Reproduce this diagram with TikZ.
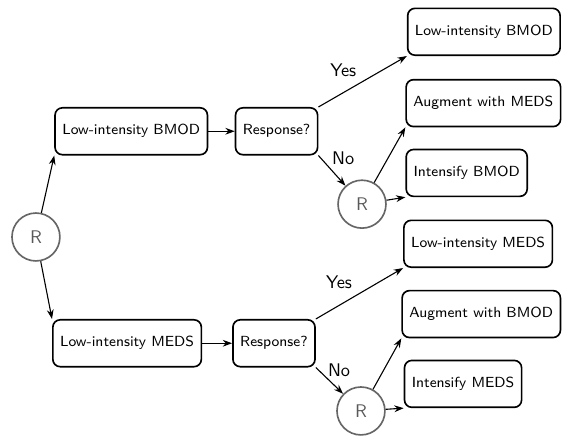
\documentclass[tikz,border=0pt]{standalone}
\usepackage{tikz}
\usetikzlibrary{arrows.meta, positioning}

\begin{document}
\begin{tikzpicture}[
    % Styles
    treat/.style={
        rectangle, rounded corners=4pt,
        minimum height=0.9cm, inner xsep=0.14cm,
        draw=black, line width=0.9pt, fill=white,
        font=\sffamily\footnotesize, align=center
    },
    rand/.style={
        circle, minimum size=0.92cm, inner sep=0pt,
        draw=black!60, line width=0.9pt, text=black!65,
        font=\sffamily
    },
    arrow/.style={-{Stealth[length=1.8mm, width=1.3mm]}, semithick},
    lbl/.style={font=\sffamily}
]
\useasboundingbox (0,0) rectangle (11.02,-8.58);

% === FIRST STAGE ===
\node (r0) [rand] at (0.69, -4.55) {R};
\node (lowB) [treat] at (2.52, -2.52) {Low-intensity BMOD};
\node (lowM) [treat] at (2.44, -6.59) {Low-intensity MEDS};

% === RESPONSE CHECKS ===
\node (respB) [treat] at (5.31, -2.52) {Response?};
\node (respM) [treat] at (5.26, -6.59) {Response?};

% === SECOND STAGE (BMOD branch) ===
\node (contB) [treat] at (9.29, -0.61) {Low-intensity BMOD};
\node (rB) [rand] at (6.95, -3.92) {R};
\node (augM) [treat] at (9.28, -1.98) {Augment with MEDS};
\node (intB) [treat] at (8.96, -3.32) {Intensify BMOD};

% === SECOND STAGE (MEDS branch) ===
\node (contM) [treat] at (9.18, -4.68) {Low-intensity MEDS};
\node (rM) [rand] at (6.93, -7.89) {R};
\node (augB) [treat] at (9.24, -6.03) {Augment with BMOD};
\node (intM) [treat] at (8.89, -7.37) {Intensify MEDS};

% === LABELS ===
\node (yesB) [lbl] at (6.59, -1.34) {Yes};
\node (noB) [lbl] at (6.59, -3.03) {No};
\node (yesM) [lbl] at (6.51, -5.41) {Yes};
\node (noM) [lbl] at (6.51, -7.10) {No};

% === ARROWS ===
\draw [arrow] (r0) -- (lowB.south west);
\draw [arrow] (r0) -- (lowM.north west);

\draw [arrow] (lowB) -- (respB);
\draw [arrow] (lowM) -- (respM);

% BMOD branch
\draw [arrow] (respB.north east) -- (contB.south west);
\draw [arrow] (respB.south east) -- (rB);
\draw [arrow] (rB) -- (augM.south west);
\draw [arrow] (rB) -- (intB.south west);

% MEDS branch
\draw [arrow] (respM.north east) -- (contM.south west);
\draw [arrow] (respM.south east) -- (rM);
\draw [arrow] (rM) -- (augB.south west);
\draw [arrow] (rM) -- (intM.south west);

\end{tikzpicture}
\end{document}
